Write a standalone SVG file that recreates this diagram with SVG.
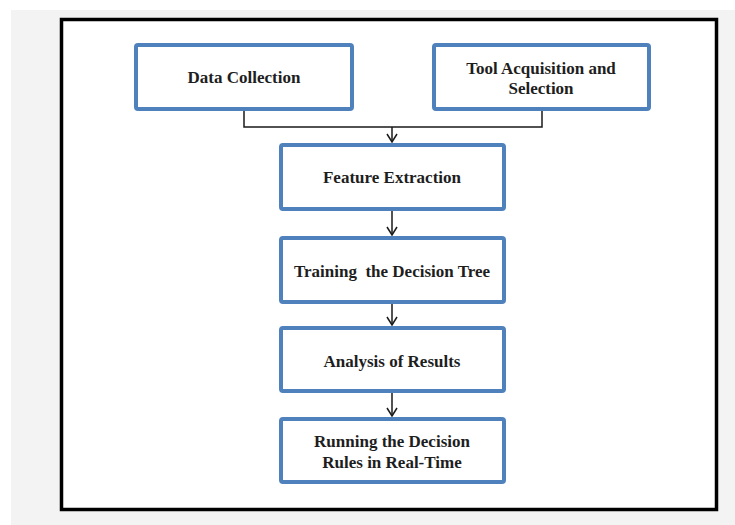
<svg xmlns="http://www.w3.org/2000/svg" width="735" height="525" viewBox="0 0 735 525">
  <defs>
    <style>
      .box { fill: #ffffff; stroke: #4f81bd; stroke-width: 4; }
      .lbl { font-family: "Liberation Serif", "Times New Roman", serif; font-weight: bold; font-size: 17px; fill: #1e1e1e; text-anchor: middle; white-space: pre; }
      .conn { fill: none; stroke: #1a1a1a; stroke-width: 1.5; }
    </style>
    <marker id="arrow" viewBox="0 0 10 12" refX="9" refY="6" markerWidth="10" markerHeight="12" markerUnits="userSpaceOnUse" orient="auto">
      <path d="M1,1 L9,6 L1,11" fill="none" stroke="#1a1a1a" stroke-width="1.5"/>
    </marker>
  </defs>
  <rect x="0" y="0" width="735" height="525" fill="#ffffff"/>
  <rect x="11" y="10" width="724" height="515" fill="#f3f3f3"/>
  <rect x="61.5" y="19.5" width="655" height="490" fill="#ffffff" stroke="#000000" stroke-width="3.5"/>

  <g id="connectors">
    <polyline class="conn" points="244,111 244,127 542,127 542,111"/>
    <line class="conn" x1="392" y1="127" x2="392" y2="142" marker-end="url(#arrow)"/>
    <line class="conn" x1="392" y1="211" x2="392" y2="235" marker-end="url(#arrow)"/>
    <line class="conn" x1="392" y1="304" x2="392" y2="325" marker-end="url(#arrow)"/>
    <line class="conn" x1="392" y1="393" x2="392" y2="416" marker-end="url(#arrow)"/>
  </g>

  <g id="data-collection">
    <rect class="box" x="136" y="45" width="216" height="64" rx="2"/>
    <text class="lbl" x="244" y="83">Data Collection</text>
  </g>
  <g id="tool-acquisition">
    <rect class="box" x="434" y="45" width="215" height="64" rx="2"/>
    <text class="lbl" x="541" y="74">Tool Acquisition and</text>
    <text class="lbl" x="541" y="94">Selection</text>
  </g>
  <g id="feature-extraction">
    <rect class="box" x="281" y="145" width="223" height="64" rx="2"/>
    <text class="lbl" x="392" y="183">Feature Extraction</text>
  </g>
  <g id="training">
    <rect class="box" x="281" y="238" width="223" height="64" rx="2"/>
    <text class="lbl" x="392" y="277" xml:space="preserve">Training  the Decision Tree</text>
  </g>
  <g id="analysis">
    <rect class="box" x="281" y="328" width="223" height="63" rx="2"/>
    <text class="lbl" x="392" y="367">Analysis of Results</text>
  </g>
  <g id="running">
    <rect class="box" x="281" y="419" width="223" height="63" rx="2"/>
    <text class="lbl" x="392" y="447">Running the Decision</text>
    <text class="lbl" x="392" y="468">Rules in Real-Time</text>
  </g>
</svg>
